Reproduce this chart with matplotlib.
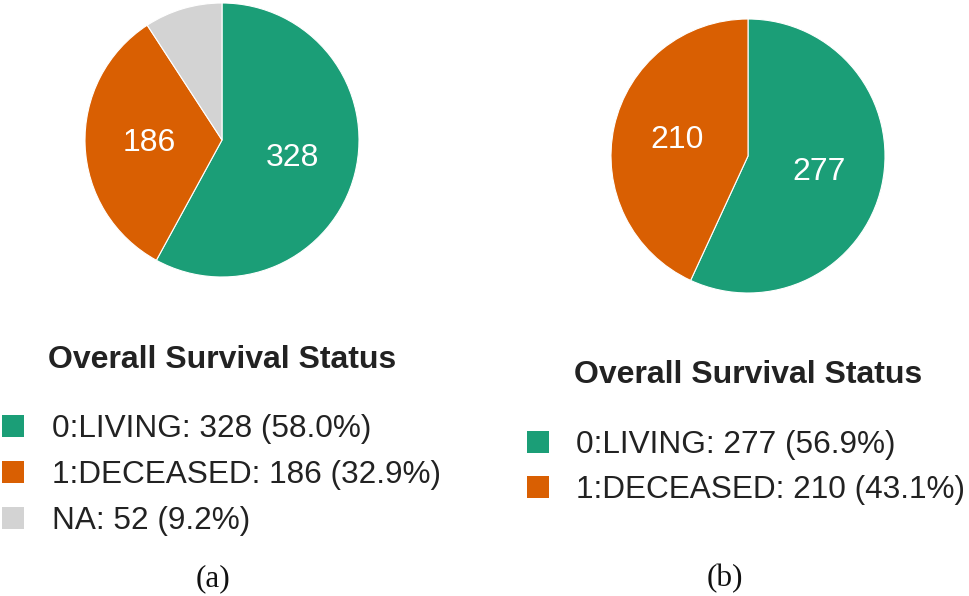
import matplotlib.pyplot as plt
from matplotlib.patches import Patch

plt.rcParams['font.family'] = ['Liberation Sans', 'DejaVu Sans']

# data
labels_a = ['0:LIVING', '1:DECEASED', 'NA']
counts_a = [328, 186, 52]
labels_b = ['0:LIVING', '1:DECEASED']
counts_b = [277, 210]
colors = ['#1b9e77', '#d95f02', '#d3d3d3']
title = 'Overall Survival Status'

W, H = 969, 596
fig = plt.figure(figsize=(W / 100, H / 100), dpi=100)


def px(x, y):
    # pixel coords (from top-left) -> figure fraction
    return x / W, 1 - y / H


def draw_panel(cx, cy, r, labels, counts, title_y, legend_cx, legend_cy, cap, cap_x):
    ax = fig.add_axes([(cx - r) / W, (H - cy - r) / H, 2 * r / W, 2 * r / H])
    total = sum(counts)
    # small slices (NA) get no number inside
    ax.pie(counts, colors=colors[:len(counts)], startangle=90, counterclock=False,
           autopct=lambda p: f'{round(p * total / 100)}' if p >= 15 else '',
           pctdistance=0.53,
           wedgeprops=dict(edgecolor='white', linewidth=0.8),
           textprops=dict(color='white', fontsize=23))
    ax.set_xlim(-1, 1)
    ax.set_ylim(-1, 1)
    ax.set_aspect('equal')
    ax.axis('off')

    tx, ty = px(cx, title_y)
    fig.text(tx, ty, title, ha='center', va='baseline', fontsize=23,
             fontweight='bold', color='#222222')

    handles = [Patch(facecolor=colors[i], edgecolor='none') for i in range(len(counts))]
    names = [f'{labels[i]}: {counts[i]} ({counts[i] / total * 100:.1f}%)'
             for i in range(len(counts))]
    fig.legend(handles, names, loc='center', bbox_to_anchor=px(legend_cx, legend_cy),
               frameon=False, fontsize=22.7, handlelength=0.70, handleheight=0.70,
               handletextpad=0.88, labelspacing=0.5, borderpad=0, borderaxespad=0,
               labelcolor='#222222')

    fx, fy = px(cap_x, 586)
    fig.text(fx, fy, cap, ha='center', va='baseline', fontsize=22.5,
             family='Liberation Serif', color='#111111')


draw_panel(222, 140, 137, labels_a, counts_a, 368, 221.5, 475, '(a)', 213)
draw_panel(748, 156, 137, labels_b, counts_b, 383, 746, 467.5, '(b)', 725)

fig.savefig('out.png', dpi=100, facecolor='white')
